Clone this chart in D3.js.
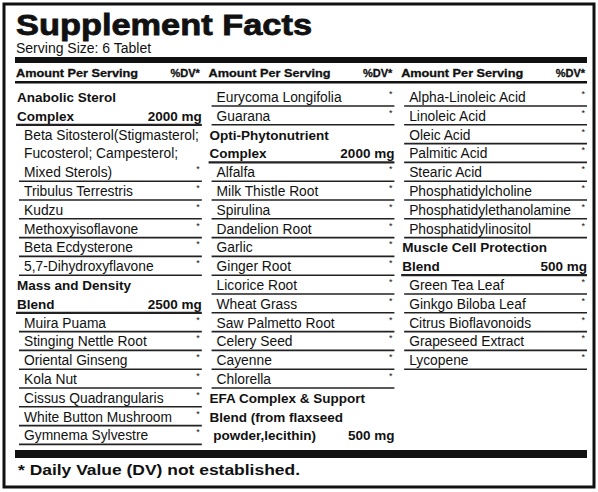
<!DOCTYPE html>
<html><head><meta charset="utf-8">
<script src="https://cdn.jsdelivr.net/npm/d3@7"></script>
<style>body{margin:0;background:#fff}text{font-family:"Liberation Sans",Arial,sans-serif;fill:#111}</style>
</head><body><svg id="c" width="598" height="492"></svg>
<script>
// kinds: h = bold heading, hl = bold heading + rule, i = item (*, rule), c = continued item text, ce = last line of continued item
var col1 = [
  ['Anabolic Sterol', '', 'h'], ['Complex', '2000 mg', 'hl'],
  ['Beta Sitosterol(Stigmasterol;', '', 'c'], ['Fucosterol; Campesterol;', '', 'c'], ['Mixed Sterols)', '', 'ce'],
  ['Tribulus Terrestris', '', 'i'], ['Kudzu', '', 'i'], ['Methoxyisoflavone', '', 'i'],
  ['Beta Ecdysterone', '', 'i'], ['5,7-Dihydroxyflavone', '', 'i'],
  ['Mass and Density', '', 'h'], ['Blend', '2500 mg', 'hl'],
  ['Muira Puama', '', 'i'], ['Stinging Nettle Root', '', 'i'], ['Oriental Ginseng', '', 'i'],
  ['Kola Nut', '', 'i'], ['Cissus Quadrangularis', '', 'i'], ['White Button Mushroom', '', 'i'],
  ['Gymnema Sylvestre', '', 'i']
]
var col2 = [
  ['Eurycoma Longifolia', '', 'i'], ['Guarana', '', 'i'],
  ['Opti-Phytonutrient', '', 'h'], ['Complex', '2000 mg', 'hl'],
  ['Alfalfa', '', 'i'], ['Milk Thistle Root', '', 'i'], ['Spirulina', '', 'i'], ['Dandelion Root', '', 'i'],
  ['Garlic', '', 'i'], ['Ginger Root', '', 'i'], ['Licorice Root', '', 'i'], ['Wheat Grass', '', 'i'],
  ['Saw Palmetto Root', '', 'i'], ['Celery Seed', '', 'i'], ['Cayenne', '', 'i'], ['Chlorella', '', 'i'],
  ['EFA Complex & Support', '', 'h'], ['Blend (from flaxseed', '', 'h'], [' powder,lecithin)', '500 mg', 'h']
]
var col3 = [
  ['Alpha-Linoleic Acid', '', 'i'], ['Linoleic Acid', '', 'i'], ['Oleic Acid', '', 'i'], ['Palmitic Acid', '', 'i'],
  ['Stearic Acid', '', 'i'], ['Phosphatidylcholine', '', 'i'], ['Phosphatidylethanolamine', '', 'i'],
  ['Phosphatidylinositol', '', 'i'],
  ['Muscle Cell Protection', '', 'h'], ['Blend', '500 mg', 'hl'],
  ['Green Tea Leaf', '', 'i'], ['Ginkgo Biloba Leaf', '', 'i'], ['Citrus Bioflavonoids', '', 'i'],
  ['Grapeseed Extract', '', 'i'], ['Lycopene', '', 'i']
]
var columns = [col1, col2, col3]
var colHeads = ['Amount Per Serving', '%DV*']

var svg = d3.select('#c')
svg.append('rect').attr('x', 4).attr('y', 4).attr('width', 590).attr('height', 483)
  .attr('fill', 'none').attr('stroke', '#111').attr('stroke-width', 3)

svg.append('text').attr('x', 16).attr('y', 35).attr('font-size', 30).attr('font-weight', 900)
  .attr('stroke', '#111').attr('stroke-width', 0.8)
  .attr('textLength', 296).attr('lengthAdjust', 'spacingAndGlyphs').text('Supplement Facts')
svg.append('text').attr('x', 16).attr('y', 53).attr('font-size', 14).attr('fill', '#333').text('Serving Size: 6 Tablet')
svg.append('rect').attr('x', 15).attr('y', 57).attr('width', 572).attr('height', 6).attr('fill', '#111')
svg.append('rect').attr('x', 15).attr('y', 81).attr('width', 572).attr('height', 2.5).attr('fill', '#111')
svg.append('rect').attr('x', 15).attr('y', 450).attr('width', 572).attr('height', 8).attr('fill', '#111')
svg.append('text').attr('x', 18).attr('y', 475).attr('font-size', 14.5).attr('font-weight', 'bold')
  .attr('textLength', 282).attr('lengthAdjust', 'spacingAndGlyphs')
  .text('* Daily Value (DV) not established.')

var x = d3.scaleBand().domain(d3.range(3)).range([16, 587]).paddingInner(0.035)
var y = d3.scaleLinear().domain([0, 1]).range([88, 106.8])

columns.forEach(function(rows, ci){
  var x0 = x(ci), w = x.bandwidth(), x1 = x0 + w
  svg.append('text').attr('x', x0).attr('y', 77).attr('font-size', 11.5).attr('font-weight', 'bold')
    .attr('stroke', '#111').attr('stroke-width', 0.3)
    .attr('textLength', 122).attr('lengthAdjust', 'spacingAndGlyphs').text(colHeads[0])
  svg.append('text').attr('x', x1 - 2).attr('y', 77).attr('font-size', 11).attr('font-weight', 'bold')
    .attr('stroke', '#111').attr('stroke-width', 0.3)
    .attr('text-anchor', 'end').text(colHeads[1])

  var g = svg.append('g').selectAll('g').data(rows).join('g')
    .attr('transform', (d, i) => 'translate(0,' + y(i) + ')')
  g.append('text')
    .attr('x', d => d[2][0] == 'h' ? x0 + 1 : x0 + 8)
    .attr('y', 14)
    .attr('font-size', d => d[2][0] == 'h' ? 13.5 : 13.8)
    .attr('font-weight', d => d[2][0] == 'h' ? 'bold' : 'normal')
    .attr('fill', d => d[2][0] == 'h' ? '#111' : '#222')
    .attr('xml:space', 'preserve')
    .text(d => d[0])
  g.filter(d => d[1]).append('text').attr('x', x1).attr('y', 14).attr('text-anchor', 'end')
    .attr('font-size', 13.5).attr('font-weight', 'bold').text(d => d[1])
  g.filter(d => d[2] == 'i' || d[2] == 'ce').append('text').attr('x', x1 - 2).attr('y', 9)
    .attr('text-anchor', 'end').attr('font-size', 9).attr('fill', '#555').text('*')
  g.filter(d => d[2] == 'i' || d[2] == 'ce' || d[2] == 'hl').append('line')
    .attr('x1', d => d[2] == 'hl' ? x0 : x0 + 3).attr('x2', x1).attr('y1', 18).attr('y2', 18)
    .attr('stroke', '#222').attr('stroke-width', d => d[2] == 'hl' ? 2.2 : 1.6)
})
</script></body></html>
